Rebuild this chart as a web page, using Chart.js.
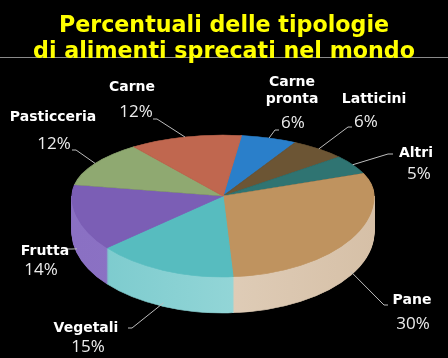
<!DOCTYPE html>
<html><head><meta charset="utf-8">
<script src="https://cdn.jsdelivr.net/npm/chart.js@4.4.1/dist/chart.umd.min.js"></script>
<style>html,body{margin:0;padding:0;background:#000;}canvas{display:block;}</style>
</head><body>
<canvas id="c" width="448" height="358"></canvas>
<script>
// ---- data ----
const categories = ['Carne pronta','Latticini','Altri','Pane','Vegetali','Frutta','Pasticceria','Carne'];
const percentages = [6, 6, 5, 30, 15, 14, 12, 12];
const titleLines = ['Percentuali delle tipologie', 'di alimenti sprecati nel mondo'];

// ---- styles ----
const topColors  = ['#2a7fca','#6c5534','#2f7472','#bf935f','#57bcbf','#7b5eb5','#8fa971','#c0674f'];
const sideColors = [['#22669f','#22669f'],['#574429','#574429'],['#255c5b','#255c5b'],
                    ['#e8d9c8','#d6c0a7'],['#78c9cc','#a9e0e0'],['#8a70c3','#9078c8'],
                    ['#728a5a','#728a5a'],['#9a523f','#9a523f']];

// ---- layout: projected (3D-looking) pie geometry ----
const W = 448, H = 358;
const PIE = {cx: 223, cy: 196, rx: 151, ryTop: 61, ryBot: 81, depth: 36, rotation: 7};
const labelLayout = [
  {name:[292,82], split:true, pct:[293,123], elbow:[275,130], end:[279,130]},
  {name:[374,99],  pct:[366,122], elbow:[348,127], end:[352,127]},
  {name:[416,153], pct:[419,174], elbow:[388,154], end:[393,154]},
  {name:[412,300], pct:[413,324], elbow:[384,305], end:[388,305]},
  {name:[86,328],  pct:[88,347],  elbow:[132,328], end:[128,328]},
  {name:[45,251],  pct:[41,270],  elbow:[72,249],  end:[68,249]},
  {name:[53,117],  pct:[54,144],  elbow:[76,150],  end:[72,150]},
  {name:[132,87],  pct:[136,112], elbow:[157,119], end:[153,119]}
];

function project(ctx, arc, ry, dy, clipTop, fn) {
  ctx.save();
  ctx.beginPath();
  if (clipTop) ctx.rect(0, 0, W, PIE.cy); else ctx.rect(0, PIE.cy, W, H - PIE.cy);
  ctx.clip();
  ctx.translate(PIE.cx, PIE.cy + dy);
  ctx.scale(PIE.rx / arc.outerRadius, ry / arc.outerRadius);
  ctx.translate(-arc.x, -arc.y);
  fn();
  ctx.restore();
}
function drawWith(ctx, arc, fill) {
  const saved = arc.options;
  arc.options = Object.assign({}, saved, {backgroundColor: fill, borderColor: fill});
  arc.draw(ctx);
  arc.options = saved;
}

const pie3d = {
  id: 'pie3d',
  beforeDraw(chart) {
    const ctx = chart.ctx;
    ctx.save();
    ctx.fillStyle = '#000';
    ctx.fillRect(0, 0, W, H);
    ctx.strokeStyle = '#8a8a8a';
    ctx.lineWidth = 1;
    ctx.beginPath(); ctx.moveTo(0, 57.5); ctx.lineTo(W, 57.5); ctx.stroke();
    ctx.restore();
  },
  beforeDatasetsDraw(chart) {
    const ctx = chart.ctx;
    const arcs = chart.getDatasetMeta(0).data;
    for (let d = PIE.depth; d >= 1; d--) {
      arcs.forEach((arc, i) => {
        project(ctx, arc, PIE.ryBot, d, false, () => {
          const R = arc.outerRadius;
          const g = ctx.createLinearGradient(arc.x - R, 0, arc.x + R, 0);
          g.addColorStop(0, sideColors[i][0]);
          g.addColorStop(1, sideColors[i][1]);
          drawWith(ctx, arc, g);
        });
      });
    }
    arcs.forEach((arc, i) => project(ctx, arc, PIE.ryTop, 0, true, () => drawWith(ctx, arc, topColors[i])));
    arcs.forEach((arc, i) => project(ctx, arc, PIE.ryBot, 0, false, () => drawWith(ctx, arc, topColors[i])));
    return false;
  },
  afterDraw(chart) {
    const ctx = chart.ctx;
    const arcs = chart.getDatasetMeta(0).data;
    ctx.save();
    arcs.forEach((arc, i) => {
      const a = (arc.startAngle + arc.endAngle) / 2;
      const ux = Math.cos(a), uy = Math.sin(a);
      const ax = PIE.cx + PIE.rx * ux;
      const ay = PIE.cy + uy * (uy < 0 ? PIE.ryTop : PIE.ryBot) + (uy > 0.2 ? PIE.depth * 0.9 : 0);
      const L = labelLayout[i];
      ctx.strokeStyle = '#bdbdbd';
      ctx.lineWidth = 1;
      ctx.beginPath();
      ctx.moveTo(ax, ay);
      ctx.lineTo(L.elbow[0], L.elbow[1]);
      ctx.lineTo(L.end[0], L.end[1]);
      ctx.stroke();
      ctx.textAlign = 'center';
      ctx.textBaseline = 'middle';
      ctx.fillStyle = '#ffffff';
      ctx.font = 'bold 14px "DejaVu Sans"';
      const lines = L.split ? categories[i].split(' ') : [categories[i]];
      lines.forEach((t, k) => ctx.fillText(t, L.name[0], L.name[1] + k * 17));
      ctx.fillStyle = '#ececec';
      ctx.font = '17px "Open Sans"';
      ctx.fillText(percentages[i] + '%', L.pct[0], L.pct[1]);
    });
    ctx.restore();
  }
};

new Chart(document.getElementById('c'), {
  type: 'pie',
  data: {
    labels: categories,
    datasets: [{data: percentages, backgroundColor: topColors, borderColor: topColors, borderWidth: 1}]
  },
  options: {
    responsive: false,
    devicePixelRatio: 1,
    animation: false,
    events: [],
    rotation: PIE.rotation,
    layout: {padding: 10},
    plugins: {
      legend: {display: false},
      tooltip: {enabled: false},
      title: {
        display: true,
        text: titleLines,
        color: '#ffff00',
        font: {family: 'DejaVu Sans', weight: 'bold', size: 22.2, lineHeight: 1.19},
        padding: {top: 3, bottom: 10}
      }
    }
  },
  plugins: [pie3d]
});
</script>
</body></html>
